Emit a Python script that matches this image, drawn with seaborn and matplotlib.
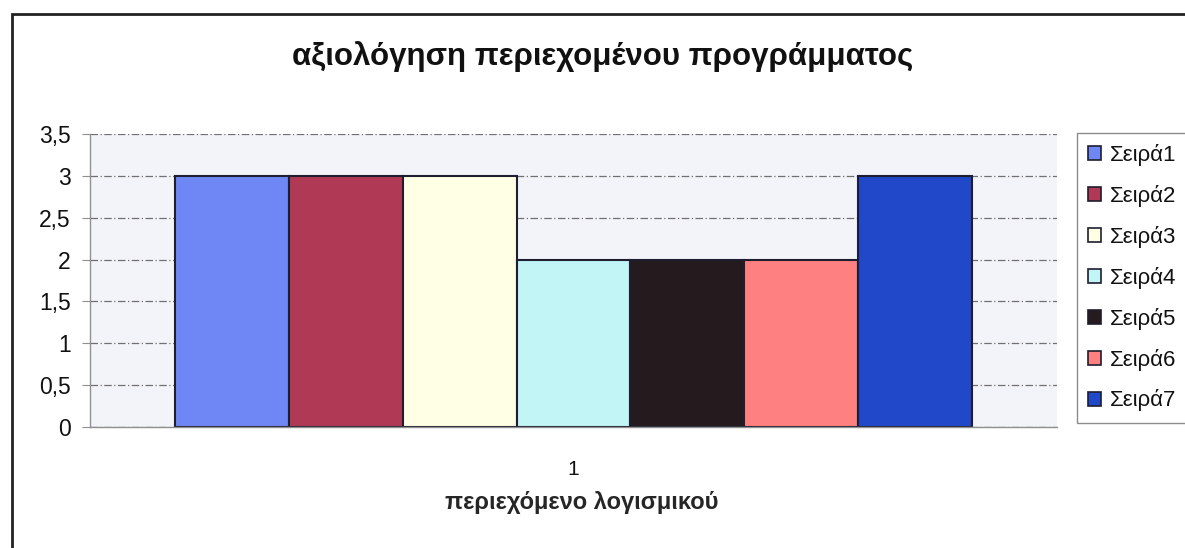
import pandas as pd
import matplotlib
matplotlib.use('Agg')
import matplotlib.pyplot as plt
import seaborn as sns
from matplotlib.patches import Rectangle

# data
category = ['1']
series = ['Σειρά1', 'Σειρά2', 'Σειρά3', 'Σειρά4', 'Σειρά5', 'Σειρά6', 'Σειρά7']
values = [3, 3, 3, 2, 2, 2, 3]
colors = ['#6F87F5', '#B03A55', '#FFFFE6', '#C2F5F5', '#251B1F', '#FF8080', '#2048C8']
ytick_vals = [0, 0.5, 1, 1.5, 2, 2.5, 3, 3.5]
ytick_labels = ['0', '0,5', '1', '1,5', '2', '2,5', '3', '3,5']
title = 'αξιολόγηση περιεχομένου προγράμματος'
xlabel = 'περιεχόμενο λογισμικού'

df = pd.DataFrame({'cat': category * len(series), 'series': series, 'value': values})

sns.set_style('white')
plt.rcParams['font.family'] = ['Liberation Sans', 'DejaVu Sans']
plt.rcParams['text.color'] = '#111111'

fig = plt.figure(figsize=(11.85, 5.48), dpi=100)
ax = fig.add_axes([90 / 1185, 121 / 548, 967 / 1185, 293 / 548])
ax.set_facecolor('#F3F3FA')

sns.barplot(data=df, x='cat', y='value', hue='series', palette=colors,
            width=0.825, saturation=1, edgecolor='#1E1E30', linewidth=1.5,
            ax=ax, legend=False)

ax.set_ylim(0, 3.5)
ax.set_xlim(-0.5, 0.5)
ax.set_yticks(ytick_vals)
ax.set_yticklabels(ytick_labels)
ax.yaxis.grid(True, color='#707070', linestyle=(0, (6, 2, 1, 2)), linewidth=0.9)
ax.set_axisbelow(True)
for side in ['top', 'right']:
    ax.spines[side].set_visible(False)
for side in ['left', 'bottom']:
    ax.spines[side].set_color('#909090')
    ax.spines[side].set_linewidth(1)
ax.tick_params(axis='y', which='both', left=True, length=6, color='#909090',
               labelsize=16.5, pad=8, labelcolor='#111111')
ax.tick_params(axis='x', bottom=False, labelsize=15, pad=20, labelcolor='#111111')

ax.set_xlabel(xlabel, fontsize=17, fontweight='bold')
ax.xaxis.label.set_va('center')
ax.xaxis.set_label_coords(0.509, -(502 - 427) / 293)
ax.set_ylabel('')
fig.text(603 / 1185, 1 - 57 / 548, title, ha='center', va='center',
         fontsize=22.5, fontweight='bold', color='#111111')

handles = [Rectangle((0, 0), 1, 1, facecolor=c, edgecolor='#1E1E30', linewidth=1.2)
           for c in colors]
leg = fig.legend(handles, series, loc='upper left',
                 bbox_to_anchor=(1077 / 1185, 1 - 133 / 548),
                 fontsize=16, frameon=True, fancybox=False,
                 handlelength=0.6, handleheight=0.6, handletextpad=0.4,
                 labelspacing=0.85, borderpad=0.5, borderaxespad=0)
leg.get_frame().set_edgecolor('#707070')
leg.get_frame().set_linewidth(1)

# outer chart frame (cut off at right and bottom)
fig.patches.append(Rectangle((12 / 1185, -0.1), 1.2, 1.1 - 14 / 548,
                             transform=fig.transFigure, fill=False,
                             edgecolor='#222222', linewidth=2))

fig.savefig('out.png', dpi=100)
